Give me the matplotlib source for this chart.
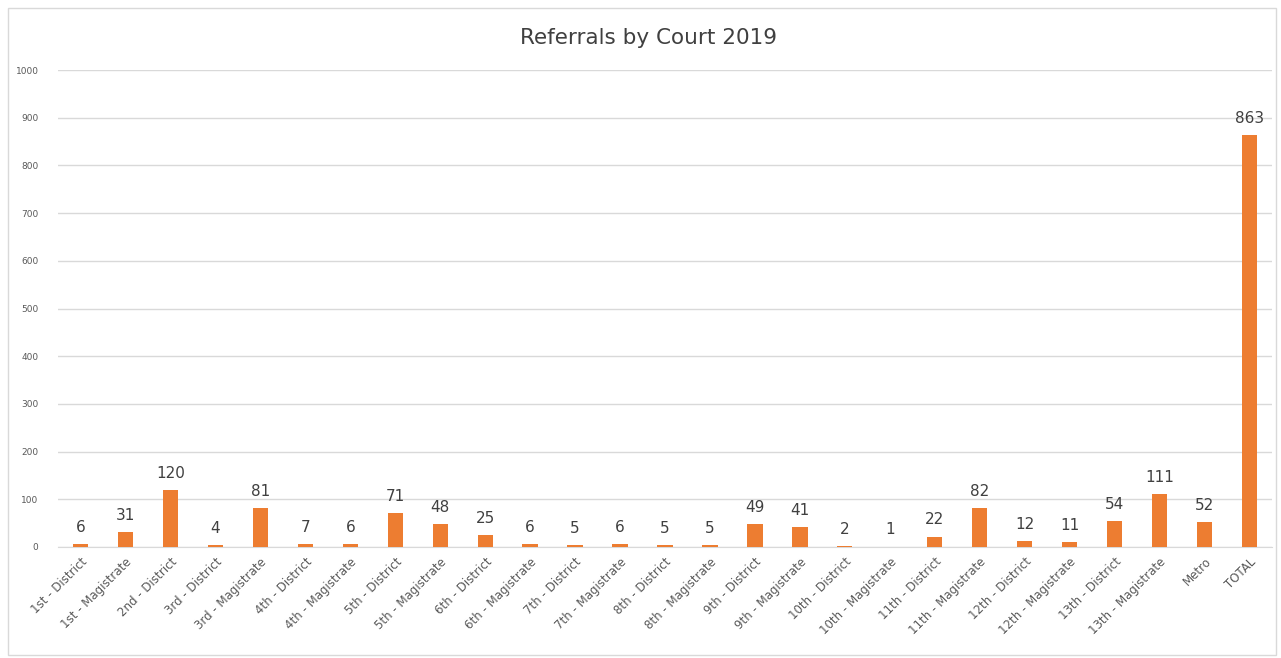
import numpy as np
import matplotlib
matplotlib.use("Agg")
from matplotlib import pyplot as plt
import matplotlib.patches as patches

courts = [
    "1st - District", "1st - Magistrate", "2nd - District", "3rd - District",
    "3rd - Magistrate", "4th - District", "4th - Magistrate", "5th - District",
    "5th - Magistrate", "6th - District", "6th - Magistrate", "7th - District",
    "7th - Magistrate", "8th - District", "8th - Magistrate", "9th - District",
    "9th - Magistrate", "10th - District", "10th - Magistrate", "11th - District",
    "11th - Magistrate", "12th - District", "12th - Magistrate", "13th - District",
    "13th - Magistrate", "Metro", "TOTAL",
]
referrals = [6, 31, 120, 4, 81, 7, 6, 71, 48, 25, 6, 5, 6, 5, 5, 49, 41, 2, 1,
             22, 82, 12, 11, 54, 111, 52, 863]
yticks = list(range(0, 1001, 100))

BAR = '#ED7D31'
GRID = '#D9D9D9'
TXT = '#595959'

fig = plt.figure(figsize=(12.81, 6.58), dpi=100)
fig.patches.append(patches.Rectangle(
    (8/1281, 3/658), 1268/1281, 647/658, transform=fig.transFigure,
    fill=False, edgecolor='#D9D9D9', linewidth=1))

ax = fig.add_axes([58/1281, 1-547/658, 1214/1281, 477/658])
x = np.arange(len(courts))
ax.bar(x, referrals, width=0.34, color=BAR, zorder=3)

for xi, v in zip(x, referrals):
    ax.text(xi, v + 19, str(v), ha='center', va='bottom',
            fontsize=11, color='#404040')

ax.set_xlim(-0.5, len(courts) - 0.5)
ax.set_ylim(0, 1000)
ax.set_yticks(yticks)
ax.set_yticklabels([str(t) for t in yticks], fontsize=6.5, color=TXT)
ax.yaxis.grid(True, color=GRID, linewidth=1, zorder=0)
ax.set_xticks(x)
ax.set_xticklabels(courts, rotation=45, ha='right', rotation_mode='anchor',
                   fontsize=8.5, color=TXT)
ax.tick_params(axis='both', length=0)
ax.tick_params(axis='y', pad=14)
ax.tick_params(axis='x', pad=6)

for s in ['top', 'right', 'left']:
    ax.spines[s].set_visible(False)
ax.spines['bottom'].set_color(GRID)

fig.text(648/1281, 1-38/658, "Referrals by Court 2019", ha='center', va='center',
         fontsize=15.5, color='#404040')

plt.savefig("out.png", dpi=100)
